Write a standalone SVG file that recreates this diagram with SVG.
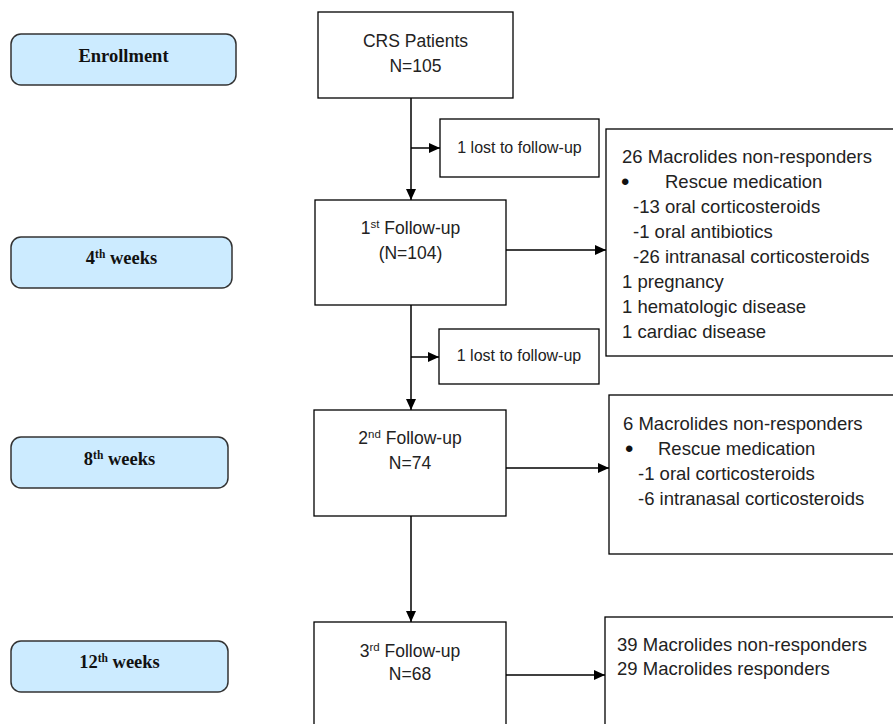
<svg xmlns="http://www.w3.org/2000/svg" width="893" height="724" viewBox="0 0 893 724">
<defs>
<marker id="ah" markerUnits="userSpaceOnUse" markerWidth="12" markerHeight="10" refX="11" refY="5" orient="auto">
<path d="M0,0 L11,5 L0,10 Z" fill="#000"/>
</marker>
<style>
.stage{fill:#CCEBFF;stroke:#333;stroke-width:1.5}
.stxt{font-family:"Liberation Serif","Times New Roman",serif;font-weight:bold;font-size:18.5px;fill:#111;text-anchor:middle}
.box{fill:#fff;stroke:#000;stroke-width:1.3}
.ntxt{font-family:"Liberation Sans",Arial,sans-serif;font-size:17.5px;fill:#222;text-anchor:middle}
.ltxt{font-family:"Liberation Sans",Arial,sans-serif;font-size:16px;fill:#222;text-anchor:middle}
.btxt{font-family:"Liberation Sans",Arial,sans-serif;font-size:18.5px;fill:#222}
.bul{font-family:"Liberation Sans",Arial,sans-serif;font-size:24px;fill:#111}
.sup{font-size:11.5px}
.con{stroke:#000;stroke-width:1.5;fill:none;marker-end:url(#ah)}
</style>
</defs>
<rect width="893" height="724" fill="#fff"/>

<g id="stage-enrollment"><rect class="stage" x="11" y="34" width="225" height="51" rx="10"/><text class="stxt" x="123.5" y="62">Enrollment</text></g>
<g id="stage-4w"><rect class="stage" x="11" y="237" width="221" height="51" rx="10"/><text class="stxt" x="121.5" y="264">4<tspan class="sup" dy="-6">th</tspan><tspan dy="6"> weeks</tspan></text></g>
<g id="stage-8w"><rect class="stage" x="11" y="437" width="217" height="51" rx="10"/><text class="stxt" x="119.5" y="465">8<tspan class="sup" dy="-6">th</tspan><tspan dy="6"> weeks</tspan></text></g>
<g id="stage-12w"><rect class="stage" x="11" y="641" width="217" height="51" rx="10"/><text class="stxt" x="119.5" y="668">12<tspan class="sup" dy="-6">th</tspan><tspan dy="6"> weeks</tspan></text></g>

<g id="crs"><rect class="box" x="318" y="12" width="195" height="86"/><text class="ntxt" x="415.5" y="47">CRS Patients</text><text class="ntxt" x="415.5" y="72">N=105</text></g>
<g id="fu1"><rect class="box" x="315" y="200" width="191" height="105"/><text class="ntxt" x="410.5" y="234">1<tspan class="sup" dy="-6">st</tspan><tspan dy="6"> Follow-up</tspan></text><text class="ntxt" x="410.5" y="259">(N=104)</text></g>
<g id="fu2"><rect class="box" x="314" y="410" width="192" height="106"/><text class="ntxt" x="410" y="444">2<tspan class="sup" dy="-6">nd</tspan><tspan dy="6"> Follow-up</tspan></text><text class="ntxt" x="410" y="469">N=74</text></g>
<g id="fu3"><rect class="box" x="314" y="622" width="192" height="110"/><text class="ntxt" x="410" y="657">3<tspan class="sup" dy="-6">rd</tspan><tspan dy="6"> Follow-up</tspan></text><text class="ntxt" x="410" y="680">N=68</text></g>

<g id="lost1"><rect class="box" x="440" y="119" width="159" height="58"/><text class="ltxt" x="519.5" y="153">1 lost to follow-up</text></g>
<g id="lost2"><rect class="box" x="439" y="329" width="160" height="55"/><text class="ltxt" x="519" y="361">1 lost to follow-up</text></g>

<g id="out1"><rect class="box" x="606" y="129" width="300" height="227"/>
<text class="btxt" x="622" y="163">26 Macrolides non-responders</text>
<text class="bul" x="621" y="190">•</text><text class="btxt" x="665" y="188">Rescue medication</text>
<text class="btxt" x="633" y="213">-13 oral corticosteroids</text>
<text class="btxt" x="633" y="238">-1 oral antibiotics</text>
<text class="btxt" x="633" y="263">-26 intranasal corticosteroids</text>
<text class="btxt" x="622" y="288">1 pregnancy</text>
<text class="btxt" x="622" y="313">1 hematologic disease</text>
<text class="btxt" x="622" y="338">1 cardiac disease</text>
</g>
<g id="out2"><rect class="box" x="609" y="395" width="300" height="159"/>
<text class="btxt" x="623" y="430">6 Macrolides non-responders</text>
<text class="bul" x="625" y="457">•</text><text class="btxt" x="658" y="455">Rescue medication</text>
<text class="btxt" x="638" y="480">-1 oral corticosteroids</text>
<text class="btxt" x="638" y="505">-6 intranasal corticosteroids</text>
</g>
<g id="out3"><rect class="box" x="605" y="617" width="300" height="115"/>
<text class="btxt" x="617" y="651">39 Macrolides non-responders</text>
<text class="btxt" x="617" y="675">29 Macrolides responders</text>
</g>

<g id="connectors">
<line class="con" x1="411" y1="98" x2="411" y2="200"/>
<line class="con" x1="411" y1="148" x2="440" y2="148"/>
<line class="con" x1="506" y1="250" x2="606" y2="250"/>
<line class="con" x1="411" y1="305" x2="411" y2="410"/>
<line class="con" x1="411" y1="357" x2="439" y2="357"/>
<line class="con" x1="506" y1="468" x2="609" y2="468"/>
<line class="con" x1="411" y1="516" x2="411" y2="622"/>
<line class="con" x1="506" y1="675" x2="605" y2="675"/>
</g>
</svg>
